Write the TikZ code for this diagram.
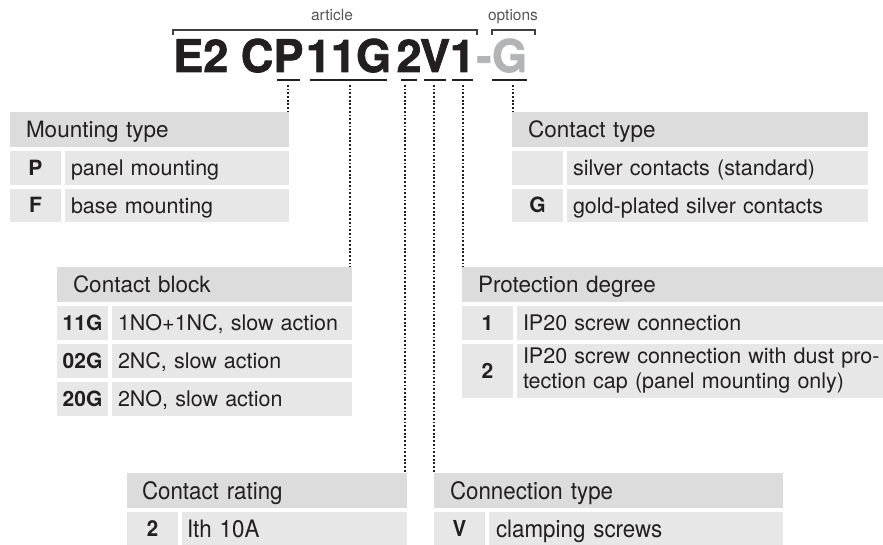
\documentclass[tikz,border=0pt]{standalone}
\usepackage{fontspec}
\setmainfont{TeX Gyre Heros}
\newfontfamily\condfont[FakeStretch=0.93]{TeX Gyre Heros}
\newfontfamily\bigfont{texgyreheros-bold.otf}[FakeBold=1.6]
\definecolor{hdrc}{HTML}{DCDCDD}
\definecolor{rowc}{HTML}{E7E7E8}
\definecolor{txt}{HTML}{231F20}
\definecolor{optg}{HTML}{B3B4B6}
\definecolor{brk}{HTML}{404040}
\definecolor{lblc}{HTML}{555555}
\begin{document}
\begin{tikzpicture}[x=1pt,y=-1pt,
  cellbase/.style={anchor=north west, outer sep=0pt, inner ysep=0pt, text=txt},
  hdr/.style={cellbase, fill=hdrc, minimum height=35pt, inner xsep=16pt, align=left,
    font=\fontsize{22.5}{26}\selectfont, text height=16pt, text depth=0pt},
  keyc/.style={cellbase, fill=rowc, minimum width=51pt, minimum height=34pt, inner xsep=0pt,
    font=\fontsize{21}{24}\selectfont\bfseries, text height=15pt, text depth=0pt},
  desc/.style={cellbase, fill=rowc, minimum height=34pt, inner xsep=6pt, align=left,
    font=\fontsize{21.5}{25}\selectfont, text height=15.5pt, text depth=0pt},
  desctwo/.style={cellbase, fill=rowc, minimum height=54pt, inner xsep=6pt, align=left,
    font=\fontsize{21.5}{25}\selectfont},
  cond/.style={font=\condfont\fontsize{24}{28}\selectfont, text height=17pt},
  condkey/.style={font=\condfont\fontsize{22}{26}\selectfont\bfseries, text height=15.8pt},
  big/.style={anchor=base, inner sep=0pt, font=\bigfont\fontsize{45}{50}\selectfont, text=txt},
  lbl/.style={anchor=base, inner sep=0pt, font=\fontsize{15.5}{18}\selectfont, text=lblc},
  brkline/.style={draw=brk, line width=1.2pt},
  uline/.style={draw=txt, line width=2.6pt},
  dotline/.style={draw=txt, line width=2pt, dash pattern=on 1.8pt off 1.9pt, line cap=butt}
]
\useasboundingbox (0,0) rectangle (883,545);

% ---- top labels and brackets
\node[lbl] (artL) at (332,21) {article};
\node[lbl] (optL) at (513,21) {options};
\coordinate (a1) at (173,30); \coordinate (a2) at (477,30);
\coordinate (o1) at (492,30); \coordinate (o2) at (535,30);
\draw[brkline] (a1) ++(0,5) -- (a1) -- (a2) -- ++(0,5);
\draw[brkline] (o1) ++(0,5) -- (o1) -- (o2) -- ++(0,5);

% ---- article code
\node[big, anchor=base east] (e2c) at (273.5,72) {E2 C};
\node[big] (cP) at (288.5,72) {P};
\node[big] (c11G) at (348.5,72) {11G};
\node[big] (c2) at (409,72) {2};
\node[big] (cV) at (435,72) {V};
\node[big] (c1) at (462.5,72) {1};
\node[big, text=optg] (cdash) at (484,72) {-};
\node[big, text=optg] (cG) at (509.5,72) {G};

% underlines
\draw[uline] (277,80) -- (300,80);
\draw[uline] (310,80) -- (387,80);
\draw[uline] (401,80) -- (417,80);
\draw[uline] (424,80) -- (446,80);
\draw[uline] (452,80) -- (473,80);
\draw[uline] (492,80) -- (527,80);

% ---- Mounting type
\node[hdr, text width=247pt] (mt) at (10,112) {Mounting type};
\node[keyc] (mtPk) at (10,151) {P};
\node[desc, text width=212pt] (mtPd) at (65,151) {panel mounting};
\node[keyc, minimum height=33pt] (mtFk) at (10,189) {F};
\node[desc, text width=212pt, minimum height=33pt] (mtFd) at (65,189) {base mounting};

% ---- Contact type
\node[hdr, text width=324pt] (cty) at (512,112) {Contact type};
\node[keyc] (ctyAk) at (512,151) {};
\node[desc, text width=289pt] (ctyAd) at (567,151) {silver contacts (standard)};
\node[keyc, minimum height=33pt] (ctyGk) at (512,189) {G};
\node[desc, text width=289pt, minimum height=33pt] (ctyGd) at (567,189) {gold-plated silver contacts};

% ---- Contact block
\node[hdr, text width=263pt] (cb) at (57,267) {Contact block};
\node[keyc] (cb1k) at (57,306) {11G};
\node[desc, text width=228pt] (cb1d) at (112,306) {1NO+1NC, slow action};
\node[keyc] (cb2k) at (57,344) {02G};
\node[desc, text width=228pt] (cb2d) at (112,344) {2NC, slow action};
\node[keyc] (cb3k) at (57,382) {20G};
\node[desc, text width=228pt] (cb3d) at (112,382) {2NO, slow action};

% ---- Protection degree
\node[hdr, text width=389pt] (pd) at (462,267) {Protection degree};
\node[keyc] (pd1k) at (462,306) {1};
\node[desc, text width=354pt] (pd1d) at (517,306) {IP20 screw connection};
\node[keyc, minimum height=54pt] (pd2k) at (462,344) {2};
\node[desctwo, text width=354pt] (pd2d) at (517,344) {\mbox{IP20 screw connection with dust pro-}\\\mbox{tection cap (panel mounting only)}};

% ---- Contact rating
\node[hdr, cond, inner xsep=15pt, text width=250pt] (cr) at (127,473) {Contact rating};
\node[keyc, condkey, minimum height=33pt] (cr1k) at (127,512) {2};
\node[desc, cond, inner xsep=5pt, text width=215pt, minimum height=33pt] (cr1d) at (182,512) {Ith 10A};

% ---- Connection type
\node[hdr, cond, text width=317pt] (cn) at (434,473) {Connection type};
\node[keyc, condkey, minimum height=33pt] (cn1k) at (434,512) {V};
\node[desc, cond, inner xsep=7pt, text width=280pt, minimum height=33pt] (cn1d) at (489,512) {clamping screws};

% ---- dotted connectors
\coordinate (dP) at (288,85);
\coordinate (d11G) at (350,85);
\coordinate (d2) at (405,85);
\coordinate (dV) at (434,85);
\coordinate (d1) at (463,85);
\coordinate (dG) at (513,85);
\draw[dotline] (dP) -- (dP |- mt.north);
\draw[dotline] (d11G) -- (d11G |- cb.north);
\draw[dotline] (d2) -- (d2 |- cr.north);
\draw[dotline] (dV) -- (dV |- cn.north);
\draw[dotline] (d1) -- (d1 |- pd.north);
\draw[dotline] (dG) -- (dG |- cty.north);
\end{tikzpicture}
\end{document}
